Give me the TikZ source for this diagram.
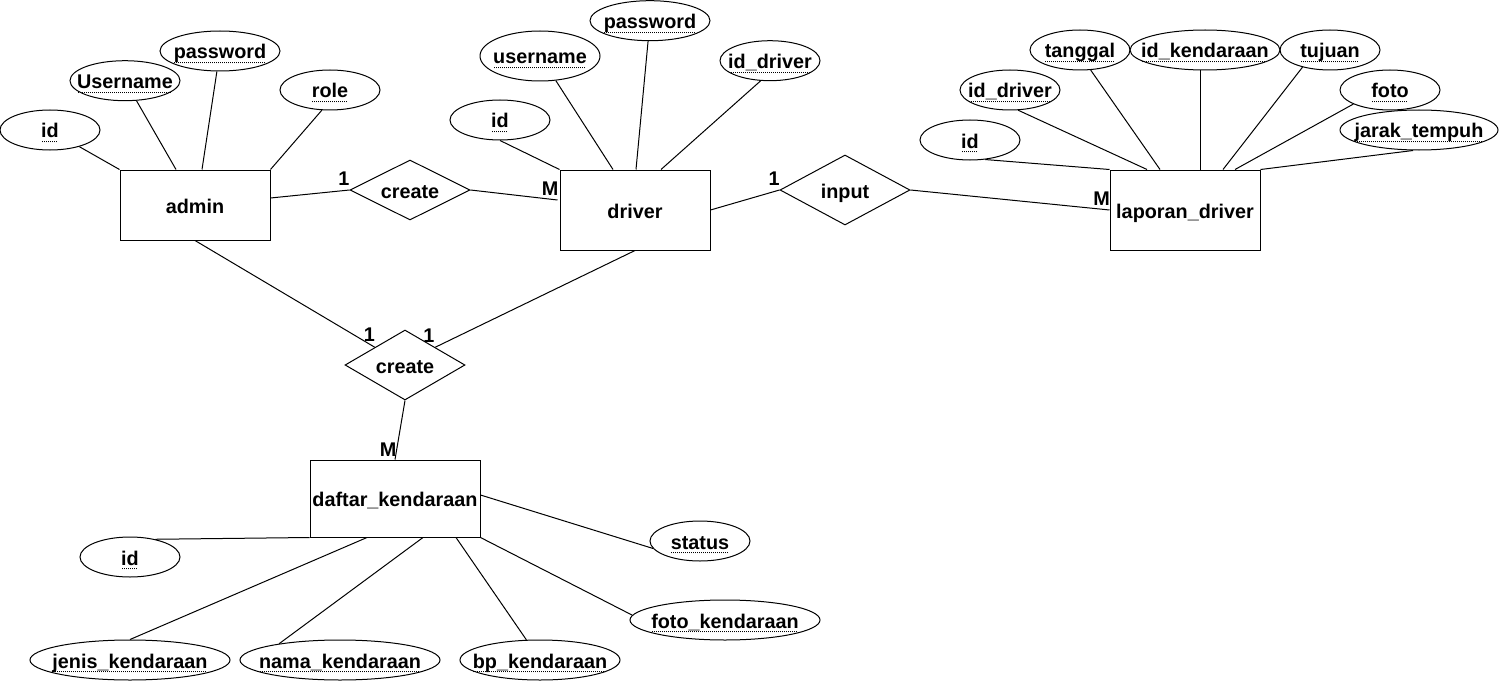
\documentclass[tikz,border=0pt]{standalone}
\usepackage{fontspec}
\setmainfont{Liberation Sans}
\usetikzlibrary{shapes.geometric,calc}

% dotted underline for key attribute names
\newcommand{\keyul}[1]{\setbox0=\hbox{#1}\rlap{\hbox to \wd0{\leaders\hbox to 2pt{\hss\vrule width 1pt height -3.4pt depth 4.4pt\hss}\hfill}}\box0}
\newcommand{\attrtext}[1]{\makebox[0pt][c]{\keyul{#1}}}
\newcommand{\reltext}[1]{\makebox[0pt][c]{#1}}

\begin{document}
\begin{tikzpicture}[x=1pt,y=-1pt,
  every node/.style={font=\fontsize{19.8}{23}\selectfont\bfseries, text height=19pt, text depth=3pt, inner sep=0pt},
  entity/.style={draw, rectangle, line width=1pt, minimum width=150pt, minimum height=70pt},
  attr/.style={draw, ellipse, line width=1pt, minimum height=40pt},
  rel/.style={draw, diamond, line width=1pt, minimum width=120pt, minimum height=60pt},
  card/.style={anchor=base},
  link/.style={line width=1pt}
]
\useasboundingbox (0,0) rectangle (1501,682);

% entities
\node[entity] (admin) at (195,205) {admin};
\node[entity, minimum height=80pt] (driver) at (635,210) {driver};
\node[entity, minimum height=80pt] (lap) at (1185,210) {laporan\_driver};
\node[entity, minimum width=170pt, minimum height=77pt] (dk) at (395,498.5) {daftar\_kendaraan};

% relationships
\node[rel] (rel1) at (410,190) {\reltext{create}};
\node[rel, minimum width=130pt, minimum height=70pt] (rel2) at (845,190) {\reltext{input}};
\node[rel, minimum height=70pt] (rel3) at (405,365) {\reltext{create}};

% admin attributes
\node[attr, minimum width=100pt] (aid) at (50,130) {\attrtext{id}};
\node[attr, minimum width=110pt] (auser) at (125,80.7) {\attrtext{Username}};
\node[attr, minimum width=120pt] (apass) at (220,51) {\attrtext{password}};
\node[attr, minimum width=100pt] (arole) at (330,90) {\attrtext{role}};

% driver attributes
\node[attr, minimum width=100pt] (did) at (500,120) {\attrtext{id}};
\node[attr, minimum width=120pt, minimum height=50pt] (duser) at (540,56) {\attrtext{username}};
\node[attr, minimum width=120pt] (dpass) at (650,20.7) {\attrtext{password}};
\node[attr, minimum width=100pt] (didrv) at (770,60.7) {\attrtext{id\_driver}};

% laporan_driver attributes
\node[attr, minimum width=100pt] (lid) at (970,140) {\attrtext{id}};
\node[attr, minimum width=100pt] (lidrv) at (1010,90) {\attrtext{id\_driver}};
\node[attr, minimum width=100pt] (ltgl) at (1080,50) {\attrtext{tanggal}};
\node[attr, minimum width=150pt] (lidk) at (1205,50) {\attrtext{id\_kendaraan}};
\node[attr, minimum width=100pt] (ltuj) at (1330,50) {\attrtext{tujuan}};
\node[attr, minimum width=100pt] (lfoto) at (1390,90) {\attrtext{foto}};
\node[attr, minimum width=158pt] (ljarak) at (1419,130) {\attrtext{jarak\_tempuh}};

% daftar_kendaraan attributes
\node[attr, minimum width=100pt] (kid) at (130,557) {\attrtext{id}};
\node[attr, minimum width=200pt] (kjenis) at (130,660) {\attrtext{jenis\_kendaraan}};
\node[attr, minimum width=200pt] (knama) at (340,660) {\attrtext{nama\_kendaraan}};
\node[attr, minimum width=160pt] (kbp) at (540,660) {\attrtext{bp\_kendaraan}};
\node[attr, minimum width=190pt] (kfoto) at (725,620) {\attrtext{foto\_kendaraan}};
\node[attr, minimum width=100pt] (kstatus) at (700,541) {\attrtext{status}};

% attribute links
\draw[link] (aid) -- (admin.north west);
\draw[link] (auser) -- ([xshift=-19pt]admin.north);
\draw[link] (apass) -- ([xshift=7pt]admin.north);
\draw[link] (arole.-112) -- (admin.north east);

\draw[link] (did.south) -- (driver.north west);
\draw[link] (duser) -- ([xshift=-22pt]driver.north);
\draw[link] (dpass) -- ([xshift=1pt]driver.north);
\draw[link] (didrv.-115) -- ([xshift=26pt]driver.north);

\draw[link] (lid.-52) -- (lap.north west);
\draw[link] (lidrv.-68) -- ([xshift=-38pt]lap.north);
\draw[link] (ltgl.-62) -- ([xshift=-25pt]lap.north);
\draw[link] ([xshift=-5pt]lidk.south) -- ([xshift=15pt]lap.north);
\draw[link] (ltuj.-148) -- ([xshift=38pt]lap.north);
\draw[link] (lfoto.-159) -- ([xshift=50pt]lap.north);
\draw[link] ([xshift=-6pt]ljarak.south) -- (lap.north east);

\draw[link] (kid.35) -- (dk.south west);
\draw[link] (kjenis.north) -- ([xshift=-28pt]dk.south);
\draw[link] (knama.165) -- ([xshift=28pt]dk.south);
\draw[link] (kbp.124) -- ([xshift=61pt]dk.south);
\draw[link] (kfoto.177) -- (dk.south east);
\draw[link] (kstatus.-171) -- ([yshift=3.5pt]dk.east);

% relationship links
\draw[link] ([yshift=7pt]admin.east) -- (rel1.west);
\draw[link] (rel1.east) -- ([xshift=-2pt,yshift=10pt]driver.west);
\draw[link] (driver.east) -- (rel2.west);
\draw[link] (rel2.east) -- (lap.west);
\draw[link] (admin.south) -- ($(rel3.west)!0.5!(rel3.north)$);
\draw[link] (driver.south) -- ($(rel3.east)!0.5!(rel3.north)$);
\draw[link] (rel3.south) -- (dk.north);

% cardinalities
\node[card] (c1) at (344,185) {1};
\node[card] (c2) at (550,195) {M};
\node[card] (c3) at (774,185) {1};
\node[card] (c4) at (1101.5,205) {M};
\node[card] (c5) at (369.5,341.7) {1};
\node[card] (c6) at (429,342.7) {1};
\node[card] (c7) at (388,456.7) {M};
\end{tikzpicture}
\end{document}
